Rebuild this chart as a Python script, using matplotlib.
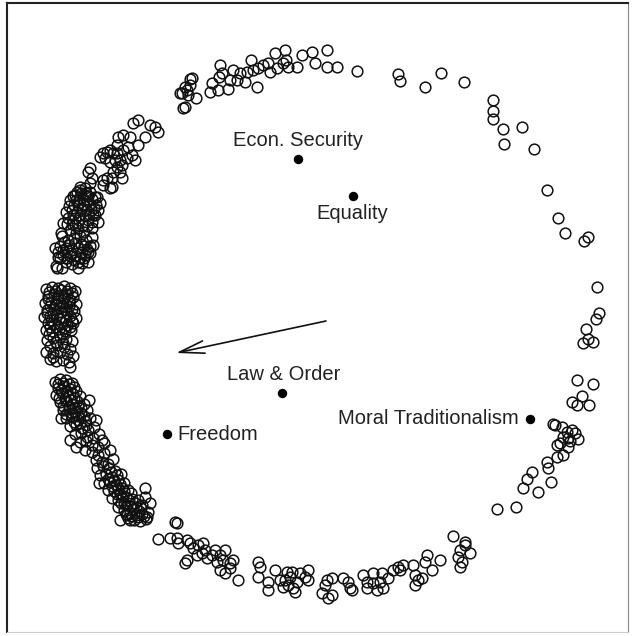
import numpy as np
import matplotlib.pyplot as plt

plt.rcParams['font.family'] = ['Liberation Sans', 'DejaVu Sans']

# respondent positions (image units, y down)
# top arc
top_x = [183, 180, 187, 190, 192, 185, 188, 196, 182, 185, 190,
         210, 212, 218, 220, 219, 222, 228, 230, 233, 240, 237, 245, 247,
         251, 253, 258, 263, 268, 270, 275, 277, 283, 285, 286, 288, 297,
         302, 312, 315, 327, 327, 337, 357, 257]
top_y = [108, 93, 90, 85, 78, 87, 95, 98, 93, 107, 79,
         92, 83, 90, 65, 77, 73, 89, 80, 70, 73, 80, 82, 72,
         60, 70, 68, 65, 63, 72, 53, 68, 63, 50, 60, 67, 67,
         55, 52, 63, 50, 67, 67, 71, 87]

# upper right, sparse
right_x = [398, 400, 425, 441, 464, 493, 493, 493, 503, 522, 504, 534,
           547, 558, 565, 584, 588, 597, 599, 596, 586, 583, 588, 593,
           577, 593, 582, 572, 577, 589]
right_y = [74, 81, 87, 73, 82, 100, 111, 119, 129, 127, 144, 149,
           190, 218, 233, 241, 237, 287, 313, 319, 329, 343, 339, 342,
           380, 384, 396, 402, 405, 405]

# lower right group
lowright_x = [553, 562, 567, 572, 575, 563, 568, 578, 560, 557, 568, 563,
              557, 547, 548, 532, 527, 551, 523, 538, 516, 497, 555, 570]
lowright_y = [424, 427, 432, 430, 433, 437, 438, 439, 443, 445, 447, 455,
              457, 462, 468, 472, 479, 482, 488, 492, 507, 509, 425, 441]

# bottom arc
bottom_x = [177, 158, 170, 177, 178, 187, 190, 193, 198, 203, 205, 202, 197,
            187, 185, 207, 212, 215, 220, 217, 225, 223, 230, 233, 220, 225,
            230, 238,
            258, 260, 258, 268, 268, 275, 280, 283, 287, 290, 288, 293, 297,
            295, 300, 305, 308, 308, 292, 285,
            327, 332, 325, 322, 328, 332, 343, 348, 350, 352,
            363, 367, 367, 373, 373, 377, 380, 382, 383, 388, 393, 398, 403,
            400, 413, 415, 418, 415, 422, 425, 427, 432, 440,
            453, 465, 460, 458, 470, 462, 460, 465]
bottom_y = [523, 539, 538, 538, 543, 540, 543, 548, 545, 543, 550, 553, 555,
            560, 563, 558, 555, 550, 555, 562, 550, 560, 563, 560, 570, 573,
            568, 580,
            562, 567, 577, 582, 590, 570, 580, 587, 572, 577, 585, 588, 582,
            592, 573, 577, 570, 580, 572, 580,
            580, 578, 585, 593, 598, 595, 578, 582, 588, 590,
            575, 582, 588, 573, 583, 590, 582, 573, 588, 578, 570, 567, 565,
            570, 565, 575, 580, 585, 578, 562, 555, 570, 560,
            536, 542, 550, 557, 553, 562, 567, 545]

# upper left group
upleft_x = [133, 138, 150, 155, 158, 145, 138, 130, 123, 118, 117, 123, 128,
            132, 135, 127, 120, 113, 110, 107, 103, 105, 110, 117, 120, 113,
            122, 112, 107, 103, 110, 90, 88, 92, 117, 122, 115, 100,
            77, 85, 97]
upleft_y = [123, 120, 125, 127, 132, 137, 145, 137, 135, 137, 145, 150, 147,
            155, 160, 158, 160, 153, 150, 152, 153, 158, 162, 167, 172, 172,
            178, 178, 178, 180, 188, 168, 172, 178, 153, 165, 160, 157,
            192, 195, 197]

# left groups
leftA_x = [70, 75, 80, 85, 90, 95, 100, 98, 93, 88, 83, 78, 72, 68, 66, 72,
           78, 84, 90, 86, 80, 75, 82, 88, 76, 94, 70, 76, 84, 92, 98,
           62, 68, 74, 80, 86, 90, 88, 84, 78, 72, 66, 60, 58, 60, 66, 72,
           78, 82, 76, 70, 64, 84, 56, 62, 78, 88,
           80, 90, 103, 112, 61, 55, 58, 57, 82, 90, 93, 92, 63,
           74, 79, 86, 92, 96, 91, 85, 79, 73, 69, 77, 83, 89, 95, 81, 73,
           67, 75, 87, 92,
           63, 69, 75, 81, 87, 80, 74, 67, 63, 71, 85]
leftA_y = [200, 195, 190, 188, 192, 197, 203, 210, 215, 220, 225, 228, 224,
           218, 212, 210, 205, 200, 204, 210, 215, 218, 208, 196, 200, 208,
           230, 233, 232, 228, 222,
           236, 240, 238, 236, 240, 246, 252, 258, 262, 264, 262, 258, 252,
           246, 248, 250, 248, 252, 256, 256, 242, 246, 266, 268, 268, 262,
           187, 183, 185, 187, 233, 248, 257, 268, 263, 253, 245, 237, 223,
           205, 199, 193, 199, 205, 210, 215, 220, 215, 206, 212, 204, 214,
           215, 193, 196, 224, 225, 226, 222,
           250, 245, 243, 244, 249, 258, 260, 258, 255, 253, 255]

leftB_x = [46, 52, 58, 64, 70, 75, 48, 54, 61, 67, 73, 45, 51, 57, 63, 69,
           76, 47, 54, 60, 66, 72, 44, 50, 57, 63, 70, 76, 48, 54, 61, 67,
           73, 46, 52, 59, 65, 71,
           47, 53, 60, 66, 72, 50, 57, 64, 70, 46, 53, 60, 67, 73, 50, 56,
           63, 69, 70, 53,
           49, 55, 61, 67, 72, 48, 58, 64, 70, 50, 56, 63, 69, 74, 47, 53,
           61, 67, 51, 59, 66, 72, 50, 57, 64, 70, 49, 62, 56, 63]
leftB_y = [289, 287, 288, 286, 288, 291, 296, 294, 295, 294, 297, 303, 302,
           301, 303, 302, 304, 310, 309, 308, 310, 309, 317, 316, 315, 317,
           316, 318, 323, 324, 322, 325, 323, 330, 331, 329, 331, 330,
           340, 338, 337, 339, 341, 346, 345, 347, 349, 352, 353, 352, 354,
           356, 359, 361, 360, 362, 367, 357,
           292, 291, 290, 291, 293, 299, 298, 298, 300, 306, 305, 306, 306,
           311, 313, 313, 312, 313, 320, 319, 320, 321, 327, 327, 328, 327,
           334, 334, 342, 343]

leftC_x = [55, 60, 66, 72, 58, 64, 70, 76, 56, 62, 68, 74, 80, 60, 66, 72,
           78, 84, 63, 69, 75, 81, 87, 66, 72, 78, 85, 90, 70, 76, 82, 88,
           94, 75, 81, 87, 93, 99, 80, 86, 92, 98, 104, 85, 92, 98, 104, 110,
           96, 102, 108, 113, 89, 96, 102, 70, 76, 61,
           58, 63, 69, 74, 61, 67, 73, 59, 65, 71, 77, 63, 69, 75, 81, 66,
           72, 78, 84, 74, 80, 86]
leftC_y = [382, 379, 380, 383, 388, 386, 389, 391, 395, 393, 396, 398, 396,
           402, 401, 404, 406, 404, 410, 409, 412, 413, 410, 418, 417, 420,
           421, 418, 426, 425, 428, 430, 427, 434, 433, 437, 438, 434, 442,
           441, 445, 447, 443, 450, 452, 455, 453, 450, 460, 462, 464, 459,
           400, 420, 440, 440, 447, 418,
           384, 383, 384, 387, 390, 391, 394, 398, 398, 400, 401, 406, 406,
           408, 408, 414, 413, 416, 416, 422, 423, 425]

leftD_x = [97, 103, 109, 115, 121, 100, 106, 112, 118, 124, 104, 110, 116,
           122, 128, 108, 114, 120, 126, 132, 112, 118, 124, 130, 136, 142,
           118, 124, 130, 136, 142, 148, 128, 134, 140, 146, 120, 150, 145,
           99, 131, 138, 145, 147, 130, 127, 175,
           111, 117, 108, 114, 120, 112, 118, 124, 117, 123, 129, 121, 127,
           133, 139, 126, 132, 138, 144, 135, 141]
leftD_y = [468, 466, 468, 471, 474, 475, 474, 477, 480, 483, 483, 482, 485,
           488, 490, 490, 491, 494, 497, 499, 498, 500, 503, 506, 507, 505,
           507, 510, 513, 515, 514, 512, 518, 520, 521, 519, 520, 503, 497,
           483, 493, 500, 488, 517, 520, 515, 522,
           472, 475, 479, 480, 484, 486, 488, 491, 494, 496, 500, 503, 505,
           509, 511, 514, 516, 517, 516, 503, 508]

# value centroids
value_names = ['Econ. Security', 'Equality', 'Law & Order', 'Freedom',
               'Moral Traditionalism']
value_x = [297.6, 352.6, 281.8, 167.0, 530.1]
value_y = [158.9, 196.1, 393.5, 434.3, 419.0]

# direction arrow (start -> end)
arrow_start = (326, 321)
arrow_end = (176, 353)

fig = plt.figure(figsize=(6.34, 6.36), dpi=100)
ax = fig.add_axes([7 / 634, 4 / 636, 621 / 634, 629 / 636])

groups = [(top_x, top_y), (right_x, right_y), (lowright_x, lowright_y),
          (bottom_x, bottom_y), (upleft_x, upleft_y), (leftA_x, leftA_y),
          (leftB_x, leftB_y), (leftC_x, leftC_y), (leftD_x, leftD_y)]
for gx, gy in groups:
    ax.plot(gx, gy, 'o', ms=7.7, mfc='none', mec='#111111', mew=1.1,
            linestyle='none')

ax.plot(value_x, value_y, 'o', ms=6.8, color='black', mew=0,
        linestyle='none')

# labels
ax.text(value_x[0], value_y[0] - 9, value_names[0], ha='center',
        va='bottom', fontsize=14.5, color='#222222')
ax.text(value_x[1], value_y[1] + 8, value_names[1], ha='center',
        va='top', fontsize=14.5, color='#222222')
ax.text(value_x[2] + 2, value_y[2] - 9, value_names[2], ha='center',
        va='bottom', fontsize=14.5, color='#222222')
ax.text(value_x[3] + 10, value_y[3], value_names[3], ha='left',
        va='center', fontsize=14.5, color='#222222')
ax.text(value_x[4] - 11, value_y[4], value_names[4], ha='right',
        va='center', fontsize=14.5, color='#222222')

ax.annotate('', xy=arrow_end, xytext=arrow_start,
            arrowprops=dict(arrowstyle='->,head_length=1.2,head_width=0.3',
                            mutation_scale=15, lw=1.2, color='#111111',
                            shrinkA=0, shrinkB=0))

ax.set_xlim(7, 628)
ax.set_ylim(632, 3)
ax.set_xticks([])
ax.set_yticks([])
ax.spines['left'].set_color('#222222')
ax.spines['top'].set_color('#222222')
ax.spines['left'].set_linewidth(1.5)
ax.spines['top'].set_linewidth(1.5)
ax.spines['right'].set_color('#888888')
ax.spines['bottom'].set_color('#cccccc')

plt.savefig('out.png', dpi=100)
